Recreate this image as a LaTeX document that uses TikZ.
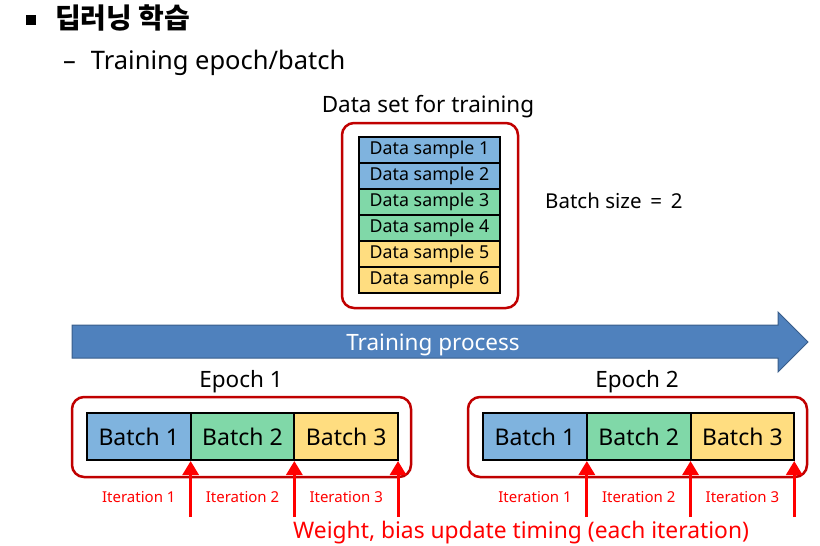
\documentclass[tikz,border=0pt]{standalone}
\usepackage{fontspec}
\setmainfont{Noto Sans}
\newfontfamily\krfont{Noto Sans CJK KR}
\usetikzlibrary{arrows.meta,positioning}
\definecolor{dred}{RGB}{192,0,0}
\definecolor{bblue}{RGB}{127,179,222}
\definecolor{bgreen}{RGB}{128,216,168}
\definecolor{byellow}{RGB}{255,221,128}
\definecolor{procblue}{RGB}{79,129,189}
\definecolor{procedge}{RGB}{56,93,138}
\definecolor{itred}{RGB}{255,0,0}
\tikzset{
  redbox/.style={draw=dred, line width=2.5pt, rounded corners=12pt},
  sample/.style={draw=black, line width=1.8pt, minimum width=141pt, minimum height=26pt, inner sep=0pt, font=\fontsize{17.8}{20}\selectfont},
  batchbox/.style={draw=black, line width=2pt, minimum width=103.7pt, minimum height=47pt, inner sep=0pt, outer sep=0pt, font=\fontsize{23}{26}\selectfont},
  uparrow/.style={draw=itred, line width=3pt, -{Triangle[width=16pt,length=14pt]}},
  itlabel/.style={text=itred, font=\fontsize{15}{18}\selectfont},
  lbl/.style={font=\fontsize{22.5}{26}\selectfont, inner sep=0pt}
}
\begin{document}
\begin{tikzpicture}[x=1pt,y=-1pt]
\useasboundingbox (0,0) rectangle (820,546);
% heading
\node[fill=black, minimum width=10pt, minimum height=10pt, inner sep=0pt] (bullet) at (30.5,20) {};
\node[anchor=west, inner sep=0pt, font=\krfont\bfseries\fontsize{28}{30}\selectfont] (title) at (55,18) {딥러닝 학습};
\node[anchor=west, inner sep=0pt, font=\fontsize{25.5}{28}\selectfont] (sub) at (63,63) {–\hspace{15pt}Training epoch/batch};
% data set
\node[lbl] (dslabel) at (428,107) {Data set for training};
\node[redbox, minimum width=176pt, minimum height=185pt] (dsbox) at (430,215.5) {};
\node[sample, fill=bblue] (s1) at (429.5,150) {Data sample 1};
\node[sample, fill=bblue] (s2) at (429.5,176) {Data sample 2};
\node[sample, fill=bgreen] (s3) at (429.5,202) {Data sample 3};
\node[sample, fill=bgreen] (s4) at (429.5,228) {Data sample 4};
\node[sample, fill=byellow] (s5) at (429.5,254) {Data sample 5};
\node[sample, fill=byellow] (s6) at (429.5,280) {Data sample 6};
\node[anchor=west, inner sep=0pt, font=\fontsize{20.5}{23}\selectfont] (bsize) at (545,201) {Batch size \,=\, 2};
% training process arrow
\filldraw[fill=procblue, draw=procedge, line width=1pt]
  (72,325) -- (778,325) -- (778,312) -- (808,342) -- (778,372) -- (778,358) -- (72,358) -- cycle;
\node[text=white, font=\fontsize{22.5}{26}\selectfont] (proc) at (433,345) {Training process};
% epoch 1
\node[lbl] (ep1) at (241,382) {Epoch 1};
\node[redbox, minimum width=339pt, minimum height=80pt] (e1box) at (241.5,437) {};
\node[batchbox, fill=bblue] (b11) at (138.8,436.5) {Batch 1};
\node[batchbox, fill=bgreen, right=0pt of b11] (b12) {Batch 2};
\node[batchbox, fill=byellow, right=0pt of b12] (b13) {Batch 3};
% epoch 2
\node[lbl] (ep2) at (637,382) {Epoch 2};
\node[redbox, minimum width=339pt, minimum height=80pt] (e2box) at (637.5,437) {};
\node[batchbox, fill=bblue] (b21) at (535,436.5) {Batch 1};
\node[batchbox, fill=bgreen, right=0pt of b21] (b22) {Batch 2};
\node[batchbox, fill=byellow, right=0pt of b22] (b23) {Batch 3};
% update arrows
\foreach \b in {b11,b12,b13,b21,b22,b23}{
  \coordinate (\b-foot) at ([yshift=-57pt]\b.south east);
  \draw[uparrow] (\b-foot) -- ([yshift=-1pt]\b.south east);
}
\node[itlabel] (i11) at ([yshift=-37pt]b11.south) {Iteration 1};
\node[itlabel] (i12) at ([yshift=-37pt]b12.south) {Iteration 2};
\node[itlabel] (i13) at ([yshift=-37pt]b13.south) {Iteration 3};
\node[itlabel] (i21) at ([yshift=-37pt]b21.south) {Iteration 1};
\node[itlabel] (i22) at ([yshift=-37pt]b22.south) {Iteration 2};
\node[itlabel] (i23) at ([yshift=-37pt]b23.south) {Iteration 3};
\node[anchor=west, inner sep=0pt, text=itred, font=\fontsize{22.8}{26}\selectfont] (wb) at (293,533) {Weight, bias update timing (each iteration)};
\end{tikzpicture}
\end{document}
